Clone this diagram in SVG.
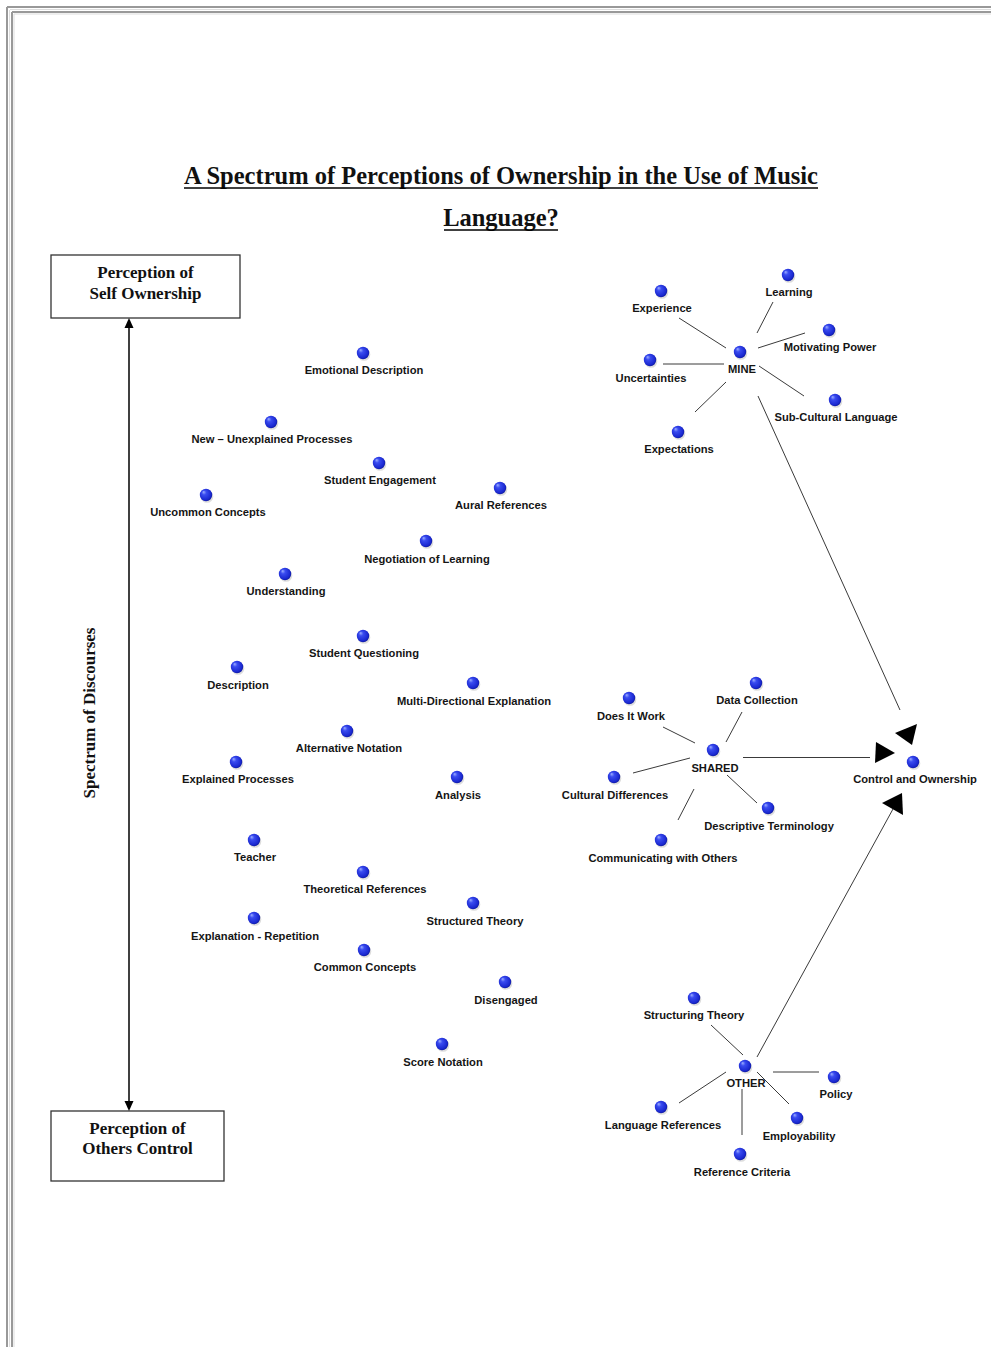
<svg xmlns="http://www.w3.org/2000/svg" xmlns:xlink="http://www.w3.org/1999/xlink" width="991" height="1347" viewBox="0 0 991 1347">
<style>
.lbl{font-family:"Liberation Sans",Arial,sans-serif;font-weight:bold;font-size:11.2px;fill:#151515;text-anchor:middle}
.ser{font-family:"Liberation Serif","Times New Roman",serif;font-weight:bold;fill:#111;text-anchor:middle}
.ln{stroke:#3a3a3a;stroke-width:1;fill:none}
.ah{fill:#000}
.box{fill:#fff;stroke:#333;stroke-width:1.3}
</style>
<defs>
<radialGradient id="g" cx="0.45" cy="0.45" r="0.6" fx="0.3" fy="0.25">
<stop offset="0" stop-color="#9fb0ff"/>
<stop offset="0.3" stop-color="#3a4cf0"/>
<stop offset="0.8" stop-color="#1a28d0"/>
<stop offset="1" stop-color="#0c1690"/>
</radialGradient>
<g id="dot">
<ellipse cx="1" cy="1.5" rx="6.3" ry="6.3" fill="#bbb" opacity="0.5"/>
<circle cx="0" cy="0" r="6.2" fill="url(#g)"/>
</g>
</defs>
<rect x="0" y="0" width="991" height="1347" fill="#fff"/>
<g id="border">
<line x1="7" y1="7" x2="991" y2="7" stroke="#999" stroke-width="2"/>
<line x1="7" y1="7" x2="7" y2="1347" stroke="#999" stroke-width="2"/>
<line x1="12" y1="12" x2="991" y2="12" stroke="#999" stroke-width="2"/>
<line x1="12" y1="12" x2="12" y2="1347" stroke="#999" stroke-width="2"/>
<line x1="10" y1="9.5" x2="991" y2="9.5" stroke="#ddd" stroke-width="1"/>
<line x1="9.5" y1="10" x2="9.5" y2="1347" stroke="#ddd" stroke-width="1"/>
<line x1="14" y1="14" x2="991" y2="14" stroke="#ddd" stroke-width="1"/>
<line x1="14" y1="14" x2="14" y2="1347" stroke="#ddd" stroke-width="1"/>
</g>
<g id="title">
<text class="ser" x="501" y="184" font-size="24.5" textLength="634" lengthAdjust="spacingAndGlyphs">A Spectrum of Perceptions of Ownership in the Use of Music</text>
<line x1="184" y1="188" x2="818" y2="188" stroke="#000" stroke-width="1.5"/>
<text class="ser" x="501" y="226" font-size="24.5">Language?</text>
<line x1="444" y1="230" x2="558" y2="230" stroke="#000" stroke-width="1.5"/>
</g>
<g id="box-self">
<rect class="box" x="51" y="255" width="189" height="63"/>
<text class="ser" x="145.5" y="278" font-size="17">Perception of</text>
<text class="ser" x="145.5" y="299" font-size="17">Self Ownership</text>
</g>
<g id="box-others">
<rect class="box" x="51" y="1111" width="173" height="70"/>
<text class="ser" x="137.5" y="1134" font-size="17">Perception of</text>
<text class="ser" x="137.5" y="1154" font-size="17">Others Control</text>
</g>
<g id="axis-label">
<text class="ser" font-size="17" transform="translate(95,713) rotate(-90)" x="0" y="0">Spectrum of Discourses</text>
</g>
<g id="connectors">
<line x1="129" y1="328" x2="129" y2="1101" stroke="#000" stroke-width="1.5"/>
<polygon class="ah" points="129,318 124.5,328 133.5,328"/>
<polygon class="ah" points="129,1111 124.5,1101 133.5,1101"/>
<line class="ln" x1="679" y1="318" x2="726" y2="348"/>
<line class="ln" x1="773" y1="302" x2="757" y2="333"/>
<line class="ln" x1="758" y1="348" x2="805" y2="333"/>
<line class="ln" x1="663" y1="364" x2="724" y2="364"/>
<line class="ln" x1="759" y1="366" x2="804" y2="396"/>
<line class="ln" x1="726" y1="382" x2="695" y2="412"/>
<line class="ln" x1="758" y1="396" x2="900" y2="710"/>
<polygon class="ah" points="895,733 917,724 912,745"/>
<line class="ln" x1="663" y1="727" x2="695" y2="743"/>
<line class="ln" x1="742" y1="712" x2="726" y2="742"/>
<line class="ln" x1="633" y1="773" x2="690" y2="758"/>
<line class="ln" x1="727" y1="775" x2="757" y2="803"/>
<line class="ln" x1="694" y1="789" x2="678" y2="820"/>
<line class="ln" x1="743" y1="757.5" x2="870" y2="757.5"/>
<polygon class="ah" points="876,742 895,753 875,763"/>
<line class="ln" x1="711" y1="1025" x2="743" y2="1055"/>
<line class="ln" x1="773" y1="1072" x2="819" y2="1072"/>
<line class="ln" x1="679" y1="1103" x2="726" y2="1072"/>
<line class="ln" x1="757" y1="1072" x2="789" y2="1104"/>
<line class="ln" x1="742" y1="1089" x2="742" y2="1135"/>
<line class="ln" x1="757" y1="1057" x2="893" y2="809"/>
<polygon class="ah" points="882,803 903,815 902,793"/>
</g>
<g id="n-emotional"><use href="#dot" x="363" y="353"/><text class="lbl" x="364" y="374">Emotional Description</text></g>
<g id="n-new"><use href="#dot" x="271" y="422"/><text class="lbl" x="272" y="443">New – Unexplained Processes</text></g>
<g id="n-engagement"><use href="#dot" x="379" y="463"/><text class="lbl" x="380" y="484">Student Engagement</text></g>
<g id="n-aural"><use href="#dot" x="500" y="488"/><text class="lbl" x="501" y="509">Aural References</text></g>
<g id="n-uncommon"><use href="#dot" x="206" y="495"/><text class="lbl" x="208" y="516">Uncommon Concepts</text></g>
<g id="n-negotiation"><use href="#dot" x="426" y="541"/><text class="lbl" x="427" y="563">Negotiation of Learning</text></g>
<g id="n-understanding"><use href="#dot" x="285" y="574"/><text class="lbl" x="286" y="595">Understanding</text></g>
<g id="n-questioning"><use href="#dot" x="363" y="636"/><text class="lbl" x="364" y="657">Student Questioning</text></g>
<g id="n-description"><use href="#dot" x="237" y="667"/><text class="lbl" x="238" y="689">Description</text></g>
<g id="n-multi"><use href="#dot" x="473" y="683"/><text class="lbl" x="474" y="705">Multi-Directional Explanation</text></g>
<g id="n-alternative"><use href="#dot" x="347" y="731"/><text class="lbl" x="349" y="752">Alternative Notation</text></g>
<g id="n-explained"><use href="#dot" x="236" y="762"/><text class="lbl" x="238" y="783">Explained Processes</text></g>
<g id="n-analysis"><use href="#dot" x="457" y="777"/><text class="lbl" x="458" y="799">Analysis</text></g>
<g id="n-teacher"><use href="#dot" x="254" y="840"/><text class="lbl" x="255" y="861">Teacher</text></g>
<g id="n-theoretical"><use href="#dot" x="363" y="872"/><text class="lbl" x="365" y="893">Theoretical References</text></g>
<g id="n-structured"><use href="#dot" x="473" y="903"/><text class="lbl" x="475" y="925">Structured Theory</text></g>
<g id="n-repetition"><use href="#dot" x="254" y="918"/><text class="lbl" x="255" y="940">Explanation - Repetition</text></g>
<g id="n-common"><use href="#dot" x="364" y="950"/><text class="lbl" x="365" y="971">Common Concepts</text></g>
<g id="n-disengaged"><use href="#dot" x="505" y="982"/><text class="lbl" x="506" y="1004">Disengaged</text></g>
<g id="n-score"><use href="#dot" x="442" y="1044"/><text class="lbl" x="443" y="1066">Score Notation</text></g>
<g id="n-experience"><use href="#dot" x="661" y="291"/><text class="lbl" x="662" y="312">Experience</text></g>
<g id="n-learning"><use href="#dot" x="788" y="275"/><text class="lbl" x="789" y="296">Learning</text></g>
<g id="n-motivating"><use href="#dot" x="829" y="330"/><text class="lbl" x="830" y="351">Motivating Power</text></g>
<g id="n-mine"><use href="#dot" x="740" y="352"/><text class="lbl" x="742" y="373">MINE</text></g>
<g id="n-uncertainties"><use href="#dot" x="650" y="360"/><text class="lbl" x="651" y="382">Uncertainties</text></g>
<g id="n-subcultural"><use href="#dot" x="835" y="400"/><text class="lbl" x="836" y="421">Sub-Cultural Language</text></g>
<g id="n-expectations"><use href="#dot" x="678" y="432"/><text class="lbl" x="679" y="453">Expectations</text></g>
<g id="n-doesitwork"><use href="#dot" x="629" y="698"/><text class="lbl" x="631" y="720">Does It Work</text></g>
<g id="n-datacollection"><use href="#dot" x="756" y="683"/><text class="lbl" x="757" y="704">Data Collection</text></g>
<g id="n-shared"><use href="#dot" x="713" y="750"/><text class="lbl" x="715" y="772">SHARED</text></g>
<g id="n-cultural"><use href="#dot" x="614" y="777"/><text class="lbl" x="615" y="799">Cultural Differences</text></g>
<g id="n-descriptive"><use href="#dot" x="768" y="808"/><text class="lbl" x="769" y="830">Descriptive Terminology</text></g>
<g id="n-communicating"><use href="#dot" x="661" y="840"/><text class="lbl" x="663" y="862">Communicating with Others</text></g>
<g id="n-control"><use href="#dot" x="913" y="762"/><text class="lbl" x="915" y="783">Control and Ownership</text></g>
<g id="n-structuring"><use href="#dot" x="694" y="998"/><text class="lbl" x="694" y="1019">Structuring Theory</text></g>
<g id="n-other"><use href="#dot" x="745" y="1066"/><text class="lbl" x="746" y="1087">OTHER</text></g>
<g id="n-policy"><use href="#dot" x="834" y="1077"/><text class="lbl" x="836" y="1098">Policy</text></g>
<g id="n-language"><use href="#dot" x="661" y="1107"/><text class="lbl" x="663" y="1129">Language References</text></g>
<g id="n-employability"><use href="#dot" x="797" y="1118"/><text class="lbl" x="799" y="1140">Employability</text></g>
<g id="n-reference"><use href="#dot" x="740" y="1154"/><text class="lbl" x="742" y="1176">Reference Criteria</text></g>
</svg>
